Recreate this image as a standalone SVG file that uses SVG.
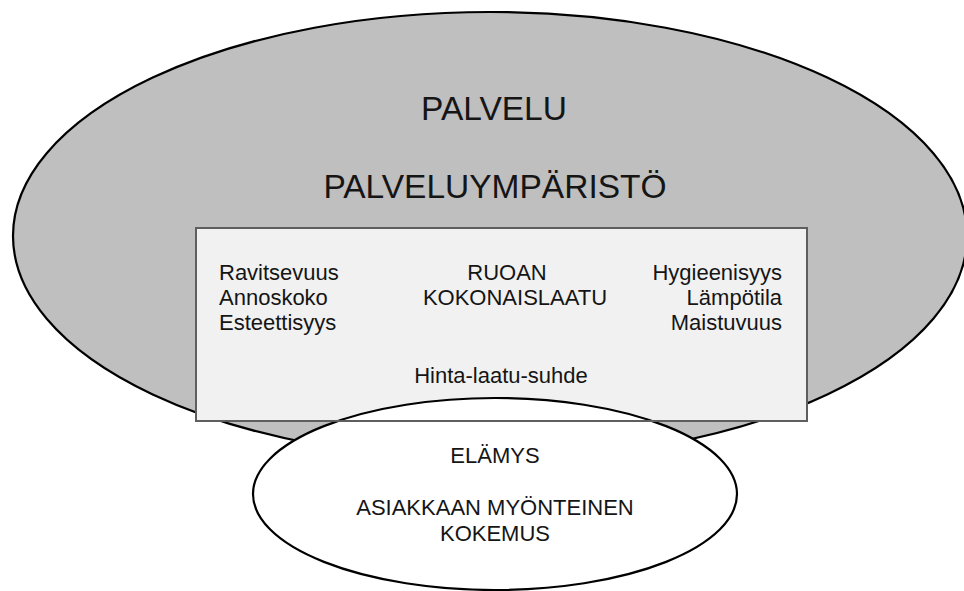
<svg xmlns="http://www.w3.org/2000/svg" width="964" height="591" viewBox="0 0 964 591">
<style>
text{font-family:"Liberation Sans",Arial,sans-serif;fill:#151515}
.big{font-size:33.5px;text-anchor:middle}
.t{font-size:22px}
.m{text-anchor:middle}
.e{text-anchor:end}
.ell{stroke:#000;stroke-width:2.2}
</style>
<rect width="964" height="591" fill="#fff"/>
<g id="palvelu">
<ellipse class="ell" cx="490" cy="236" rx="477" ry="224" fill="#bfbfbf"/>
<text class="big" x="494" y="120">PALVELU</text>
<text class="big" x="495" y="198">PALVELUYMPÄRISTÖ</text>
</g>
<g id="ruoan-kokonaislaatu">
<rect x="196" y="228" width="611" height="193" fill="#f1f1f1"/>
<text class="t" x="219" y="280">Ravitsevuus</text>
<text class="t" x="219" y="305">Annoskoko</text>
<text class="t" x="219" y="330">Esteettisyys</text>
<text class="t m" x="507" y="280">RUOAN</text>
<text class="t m" x="515" y="305">KOKONAISLAATU</text>
<text class="t e" x="782" y="280">Hygieenisyys</text>
<text class="t e" x="782" y="305">Lämpötila</text>
<text class="t e" x="782" y="330">Maistuvuus</text>
<text class="t m" x="501" y="383">Hinta-laatu-suhde</text>
</g>
<g id="elamys">
<ellipse class="ell" cx="495" cy="494" rx="242" ry="96" fill="#fff"/>
<text class="t m" x="495" y="463">ELÄMYS</text>
<text class="t m" x="495" y="515">ASIAKKAAN MYÖNTEINEN</text>
<text class="t m" x="495" y="541">KOKEMUS</text>
</g>
<g id="ruoan-kokonaislaatu-border">
<rect x="196" y="228" width="611" height="193" fill="none" stroke="#5e5e5e" stroke-width="2"/>
</g>
<g id="connectors"/>
</svg>
